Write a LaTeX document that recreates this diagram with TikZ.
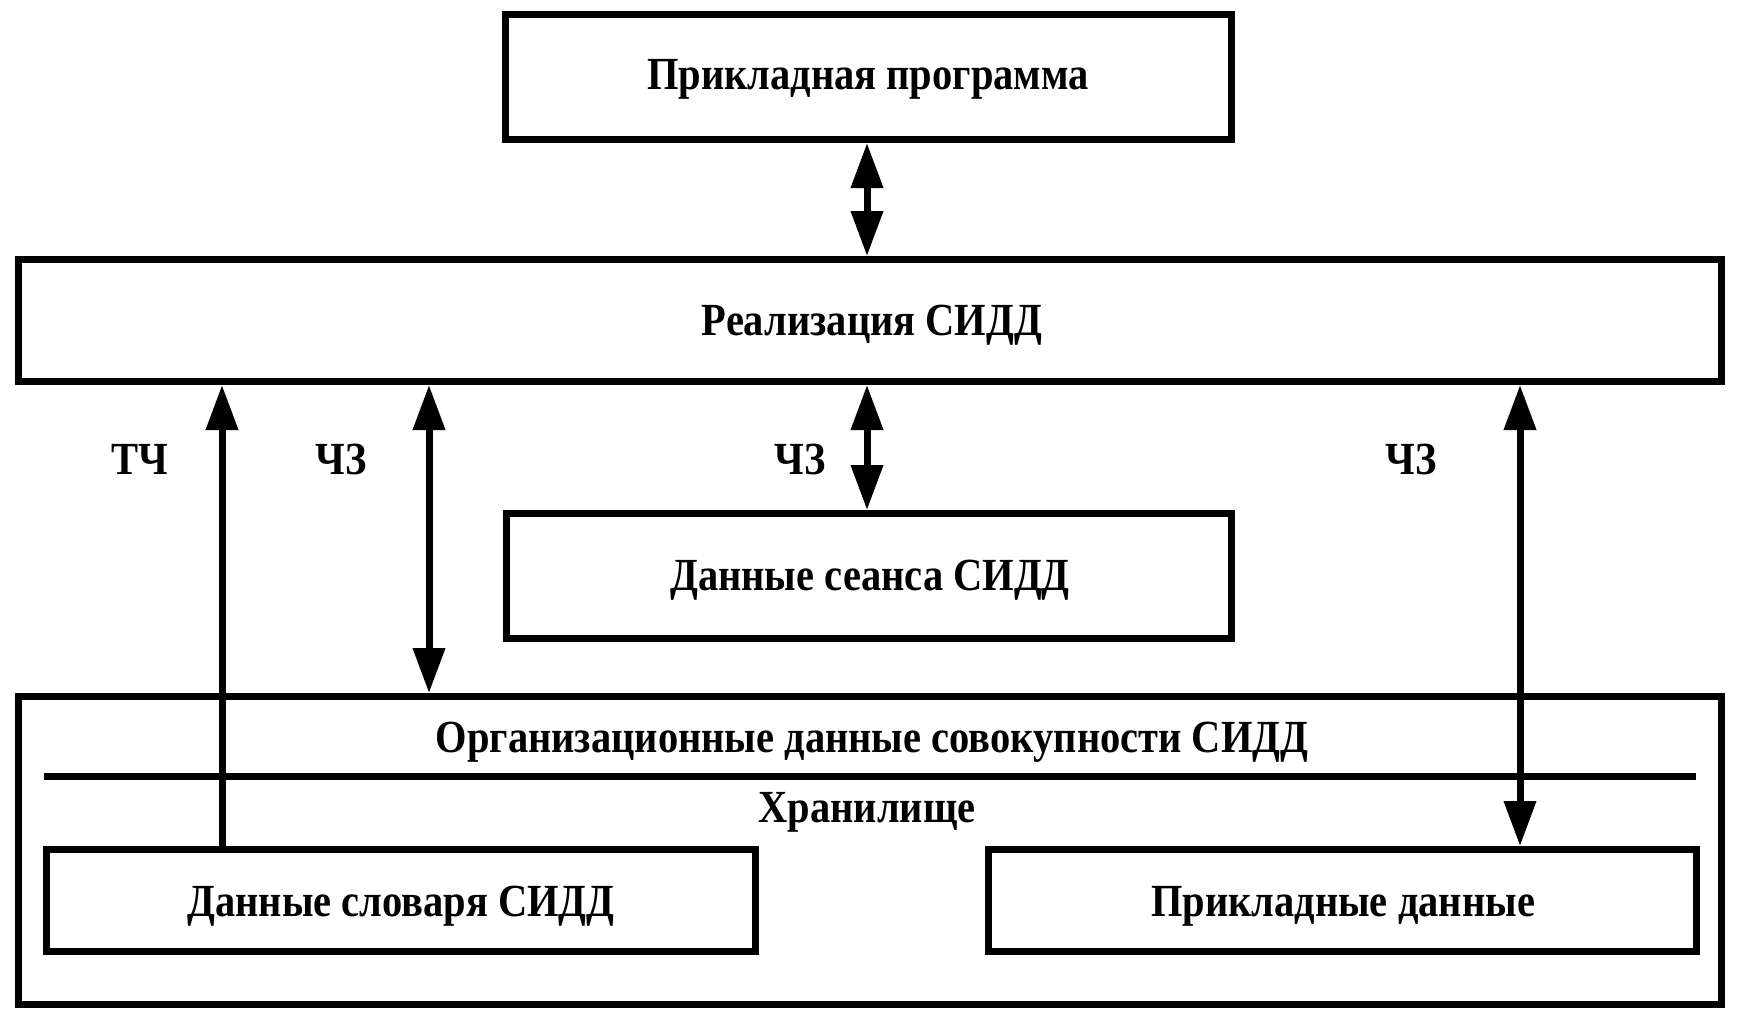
\documentclass[tikz,border=0pt]{standalone}
\usepackage{fontspec}
\setmainfont{Liberation Serif}[FakeStretch=0.88]
\usetikzlibrary{arrows.meta}
\begin{document}
\begin{tikzpicture}[x=1pt,y=-1pt,
  box/.style={draw=black,line width=7pt,rectangle,inner sep=0pt,fill=white},
  lbl/.style={font=\fontsize{46}{52}\selectfont\bfseries,inner sep=0pt,anchor=base},
  arr/.style={line width=7pt,-{Triangle[length=45pt,width=31pt]}},
  darr/.style={line width=7pt,{Triangle[length=45pt,width=31pt]}-{Triangle[length=45pt,width=31pt]}}]
\useasboundingbox (0,0) rectangle (1737,1020);
% boxes
\node[box,minimum width=726pt,minimum height=125pt] (top) at (868.5,77) {};
\node[box,minimum width=1703pt,minimum height=122pt] (real) at (870,320.5) {};
\node[box,minimum width=725pt,minimum height=125pt] (sess) at (869,576) {};
\node[box,minimum width=1703pt,minimum height=308pt] (org) at (870,850.5) {};
\node[box,minimum width=709pt,minimum height=102pt] (dict) at (401,900.5) {};
\node[box,minimum width=708pt,minimum height=102pt] (app) at (1342.5,900.5) {};
% separator line in the outer box
\draw[line width=7pt] (44,776.5) -- (1696,776.5);
% texts
\node[lbl] (tTop) at (868,89) {Прикладная программа};
\node[lbl] (tReal) at (872,335) {Реализация СИДД};
\node[lbl] (tSess) at (870,590) {Данные сеанса СИДД};
\node[lbl] (tOrg) at (872,752) {Организационные данные совокупности СИДД};
\node[lbl] (tStore) at (867,822) {Хранилище};
\node[lbl] (tDict) at (401,916) {Данные словаря СИДД};
\node[lbl] (tApp) at (1343,916) {Прикладные данные};
\node[lbl] (lTCh) at (140,474) {ТЧ};
\node[lbl] (lCZ1) at (341,474) {ЧЗ};
\node[lbl] (lCZ2) at (800,474) {ЧЗ};
\node[lbl] (lCZ3) at (1411,474) {ЧЗ};
% arrow x positions
\coordinate (xa) at (222,0);
\coordinate (xb) at (429,0);
\coordinate (xc) at (867,0);
\coordinate (xd) at (1520,0);
% connectors
\draw[darr] (top.south -| xc) -- (real.north -| xc);
\draw[darr] (real.south -| xc) -- (sess.north -| xc);
\draw[arr] (dict.north -| xa) -- (real.south -| xa);
\draw[darr] (real.south -| xb) -- (org.north -| xb);
\draw[darr] (real.south -| xd) -- (app.north -| xd);
\end{tikzpicture}
\end{document}
